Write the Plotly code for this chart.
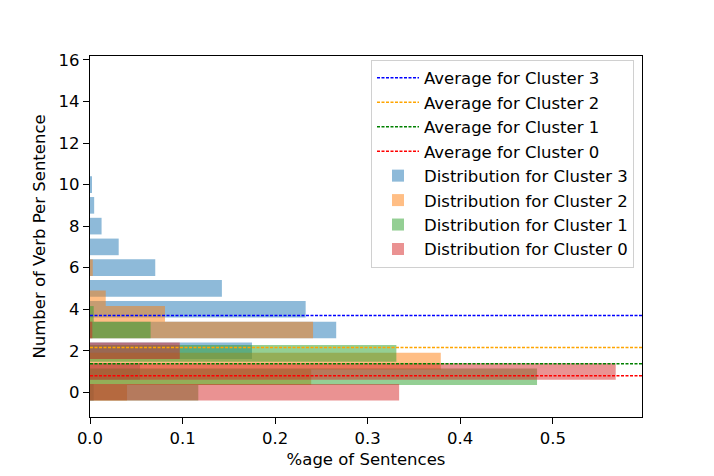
import plotly.graph_objects as go

# ---------------- data ----------------
clusters = [3, 2, 1, 0]

# bar positions (verbs per sentence, bin positions) and share of sentences
c3_pos = [0, 1, 2, 3, 4, 5, 6, 7, 8, 9, 10]
c3_frac = [0.004, 0.054, 0.175, 0.266, 0.233, 0.1425, 0.0705, 0.031, 0.0125, 0.0045, 0.002]

c2_pos = [0, 0.75, 1.5, 3.0, 3.75, 4.5, 6.0]
c2_frac = [0.040, 0.239, 0.379, 0.241, 0.081, 0.017, 0.003]

c1_pos = [0, 0.75, 1.875, 3.0, 3.75]
c1_frac = [0.117, 0.483, 0.331, 0.0655, 0.004]

c0_pos = [0, 1, 2, 3]
c0_frac = [0.334, 0.568, 0.097, 0.0025]

averages = {3: 3.70, 2: 2.16, 1: 1.37, 0: 0.80}

y_ticks = [0, 2, 4, 6, 8, 10, 12, 14, 16]
x_ticks = [0.0, 0.1, 0.2, 0.3, 0.4, 0.5]

pos = {3: c3_pos, 2: c2_pos, 1: c1_pos, 0: c0_pos}
frac = {3: c3_frac, 2: c2_frac, 1: c1_frac, 0: c0_frac}

# ---------------- style ----------------
bar_colors = {3: '#1f77b4', 2: '#ff7f0e', 1: '#2ca02c', 0: '#d62728'}
line_colors = {3: '#0000ff', 2: '#ffa500', 1: '#008000', 0: '#ff0000'}
FONT = 'DejaVu Sans'
FS = 16.5

x_max = 1.05 * max(max(v) for v in frac.values())

fig = go.Figure()

for k in clusters:
    fig.add_trace(go.Scatter(
        x=[0, x_max], y=[averages[k], averages[k]], mode='lines',
        line=dict(color=line_colors[k], width=1.5, dash='3px,1.5px'),
        name=f'Average for Cluster {k}', legendgroup=f'a{k}',
    ))

for k in clusters:
    fig.add_trace(go.Bar(
        y=pos[k], x=frac[k], orientation='h', width=0.8,
        marker=dict(color=bar_colors[k], line=dict(width=0)),
        opacity=0.5,
        name=f'Distribution for Cluster {k}', legendgroup=f'd{k}',
    ))

fig.update_layout(
    width=714, height=476,
    margin=dict(l=90, r=72, t=56, b=59),
    plot_bgcolor='white', paper_bgcolor='white',
    barmode='overlay',
    font=dict(family=FONT, size=FS, color='black'),
    legend=dict(
        x=0.9855, y=0.99, xanchor='right', yanchor='top',
        bgcolor='white', bordercolor='#d0d0d0', borderwidth=1,
        font=dict(family=FONT, size=FS, color='black'),
        traceorder='grouped', tracegroupgap=0, itemwidth=42,
    ),
    showlegend=True,
)

fig.update_xaxes(
    range=[0, x_max], tickvals=x_ticks, ticktext=[f'{v:.1f}' for v in x_ticks],
    showgrid=False, zeroline=False, automargin=False,
    showline=True, linecolor='black', linewidth=1.3, mirror=True,
    ticks='outside', ticklen=6, tickwidth=1.3, tickcolor='black',
    title=dict(text='%age of Sentences', font=dict(family=FONT, size=FS), standoff=6),
)
fig.update_yaxes(
    range=[-1.19, 16.19], tickvals=y_ticks, ticktext=[str(v) for v in y_ticks],
    showgrid=False, zeroline=False, automargin=False,
    showline=True, linecolor='black', linewidth=1.3, mirror=True,
    ticks='outside', ticklen=6, tickwidth=1.3, tickcolor='black',
    title=dict(text='Number of Verb Per Sentence', font=dict(family=FONT, size=FS), standoff=8),
)

fig.write_html('out.html', config={'displayModeBar': False},
               post_script="document.body.style.margin='0px';")
